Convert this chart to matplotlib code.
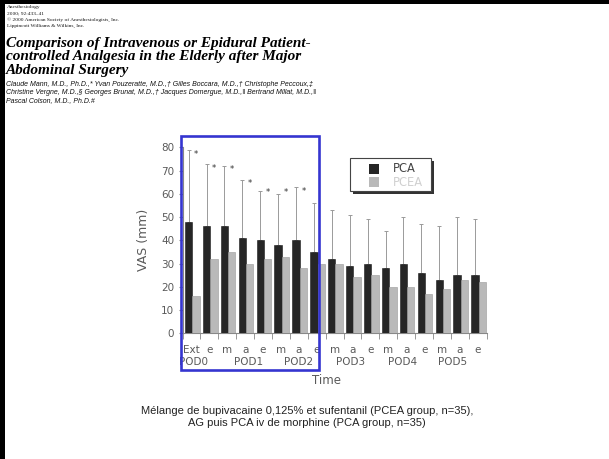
import matplotlib
matplotlib.use("Agg")
import matplotlib.pyplot as plt
from matplotlib.patches import Rectangle
from matplotlib.transforms import blended_transform_factory
import numpy as np

# ---- data -------------------------------------------------------------
periods = ["Ext", "e", "m", "a", "e", "m", "a", "e",
           "m", "a", "e", "m", "a", "e", "m", "a", "e"]
day_labels = ["POD0", "POD1", "POD2", "POD3", "POD4", "POD5"]
day_label_pos = [0.64, 3.69, 6.48, 9.39, 12.32, 15.11]

pca_mean = [48, 46, 46, 41, 40, 38, 40, 35, 32, 29, 30, 28, 30, 26, 23, 25, 25]
pcea_mean = [16, 32, 35, 30, 32, 33, 28, 30, 30, 24, 25, 20, 20, 17, 19, 23, 22]
pca_upper = [79, 73, 72, 66, 61, 60, 63, 56, 53, 51, 49, 44, 50, 47, 46, 50, 49]
star_height = [77, 71, 70.4, 64.4, 60.4, 60.4, 61.2]   # significant periods

series_names = ["PCA", "PCEA"]
series_colors = ["#262626", "#b9b9b9"]

caption = ["Mélange de bupivacaine 0,125% et sufentanil (PCEA group, n=35),",
           "AG puis PCA iv de morphine (PCA group, n=35)"]
journal = ["Anesthesiology",
           "2000; 92:433\u201341",
           "\u00a9 2000 American Society of Anesthesiologists, Inc.",
           "Lippincott Williams & Wilkins, Inc."]
title_lines = ["Comparison of Intravenous or Epidural Patient-",
               "controlled Analgesia in the Elderly after Major",
               "Abdominal Surgery"]
authors = ["Claude Mann, M.D., Ph.D.,* Yvan Pouzeratte, M.D.,\u2020 Gilles Boccara, M.D.,\u2020 Christophe Peccoux,\u2021",
           "Christine Vergne, M.D.,\u00a7 Georges Brunat, M.D.,\u2020 Jacques Domergue, M.D.,\u2016 Bertrand Millat, M.D.,\u2016",
           "Pascal Colson, M.D., Ph.D.#"]

# ---- figure -----------------------------------------------------------
W, H = 609, 459
fig = plt.figure(figsize=(W / 100, H / 100), dpi=100)
fig.patch.set_facecolor("white")


def fx(px):
    return px / W


def fy(py):
    return 1 - py / H


def fig_rect(x0, y0, x1, y1, **kw):
    """Rectangle given by pixel corners (top-left origin)."""
    return Rectangle((fx(x0), fy(y1)), fx(x1) - fx(x0), fy(y0) - fy(y1),
                     transform=fig.transFigure, **kw)


# slide frame: black bars on top and left
fig.patches.append(fig_rect(0, 0, W, 4, facecolor="black", edgecolor="none"))
fig.patches.append(fig_rect(0, 0, 5, H, facecolor="black", edgecolor="none"))

# journal header
for i, line in enumerate(journal):
    fig.text(fx(7), fy(7 + 6.2 * i), line, family=["Liberation Serif", "DejaVu Serif"],
             fontsize=3.9, va="center", ha="left", color="#111")

# title
for i, line in enumerate(title_lines):
    fig.text(fx(6), fy(43.5 + 13.3 * i), line, family=["Liberation Serif", "DejaVu Serif"],
             fontsize=11, weight="bold", style="italic", va="center", ha="left", color="black")

# authors
for i, line in enumerate(authors):
    fig.text(fx(6), fy(84.5 + 8.0 * i), line, family=["Liberation Sans", "DejaVu Sans"],
             fontsize=5.0, style="italic", va="center", ha="left", color="#111")

# ---- chart ------------------------------------------------------------
ax = fig.add_axes([fx(182.5), fy(333.3), fx(486.7) - fx(182.5), fy(147.3) - fy(333.3)])
grey = "#5a5a5a"
x = np.arange(len(periods))
bw = 0.41
pca_x = x + 0.345
pcea_x = x + 0.755

ax.bar(pca_x, pca_mean, width=bw, color=series_colors[0], edgecolor="#1a1a1a",
       linewidth=0.4, zorder=3)
ax.bar(pcea_x, pcea_mean, width=bw, color=series_colors[1], edgecolor="#999999",
       linewidth=0.4, zorder=3)

err = np.array(pca_upper) - np.array(pca_mean)
ax.errorbar(pca_x, pca_mean, yerr=[np.zeros_like(err), err], fmt="none",
            ecolor="#9a9a9a", elinewidth=0.7, capsize=1.6, capthick=0.7, zorder=2)

for i, h in enumerate(star_height):
    ax.text(pcea_x[i], h, "*", ha="center", va="center", fontsize=6, color="#333")

ax.set_xlim(0, len(periods))
ax.set_ylim(0, 80)
ax.set_yticks(np.arange(0, 81, 10))
ax.set_xticks(x + 0.5)
ax.set_xticklabels(periods)
ax.set_xticks(np.arange(0, len(periods) + 1), minor=True)
ax.tick_params(axis="x", which="major", length=0, pad=8.5, labelsize=7.5, labelcolor=grey)
ax.tick_params(axis="x", which="minor", length=4, color="#888", direction="out")
ax.tick_params(axis="y", length=3, color="#888", labelsize=7.5, labelcolor=grey, pad=3)
for s in ["top", "right"]:
    ax.spines[s].set_visible(False)
for s in ["left", "bottom"]:
    ax.spines[s].set_color("#888")
    ax.spines[s].set_linewidth(0.8)

trans = blended_transform_factory(ax.transData, ax.transAxes)
for lbl, pos in zip(day_labels, day_label_pos):
    ax.text(pos, -29 / 186, lbl, transform=trans, ha="center", va="center",
            fontsize=7.5, color=grey)

ax.set_ylabel("VAS (mm)", fontsize=9, color=grey, labelpad=8)
fig.text(fx(326.7), fy(381), "Time", ha="center", va="center", fontsize=8.5, color=grey)

# legend box with drop shadow
fig.patches.append(fig_rect(353, 161, 434, 194, facecolor="#333333", edgecolor="none", zorder=5))
fig.patches.append(fig_rect(350, 158, 431, 191, facecolor="white", edgecolor="#444",
                            linewidth=0.8, zorder=6))
legend_text_colors = ["#444444", "#d0d0d0"]
for i, (name, col, tcol) in enumerate(zip(series_names, series_colors, legend_text_colors)):
    y0 = 164 + 13 * i
    fig.patches.append(fig_rect(369, y0, 379, y0 + 10, facecolor=col, edgecolor="none", zorder=7))
    fig.text(fx(393), fy(y0 + 5), name, ha="left", va="center", fontsize=8.3,
             color=tcol, zorder=8)

# highlighted early post-operative period
fig.patches.append(fig_rect(181, 135.7, 319.3, 370, facecolor="none",
                            edgecolor="#3535d0", linewidth=1.9, zorder=10))

# caption
for i, line in enumerate(caption):
    fig.text(fx(307), fy(410.5 + 12.5 * i), line, family=["Liberation Sans", "DejaVu Sans"],
             fontsize=8, ha="center", va="center", color="#222")

fig.savefig("out.png", dpi=100)
